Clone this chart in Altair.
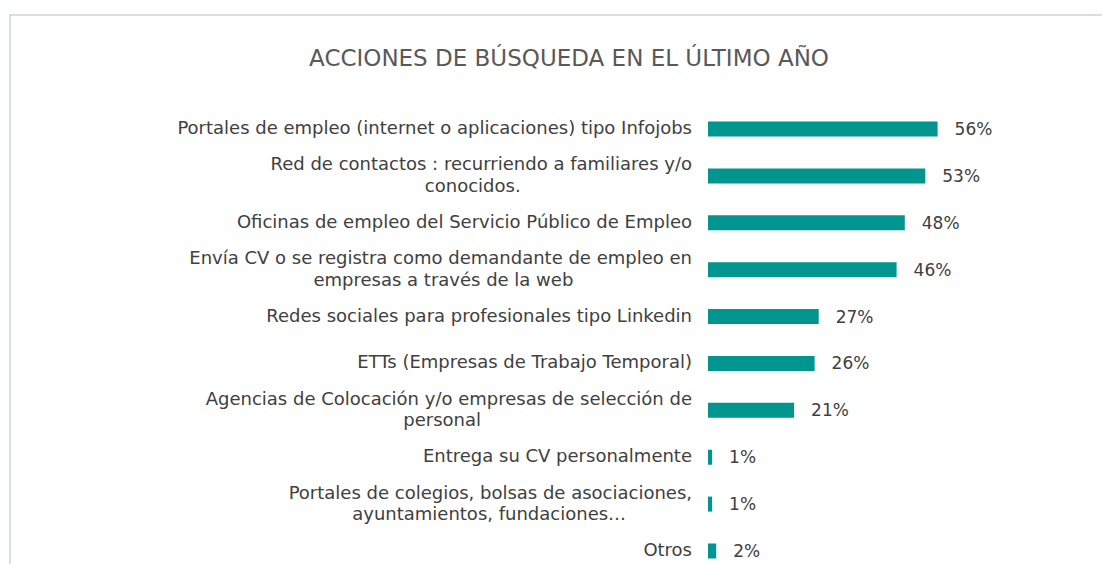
import unicodedata
import altair as alt
import pandas as pd

line1 = [
    "Portales de empleo (internet o aplicaciones) tipo Infojobs",
    "Red de contactos : recurriendo a familiares y/o",
    "Oficinas de empleo del Servicio Público de Empleo",
    "Envía CV o se registra como demandante de empleo en",
    "Redes sociales para profesionales tipo Linkedin",
    "ETTs (Empresas de Trabajo Temporal)",
    "Agencias de Colocación  y/o empresas de selección de",
    "Entrega su CV personalmente",
    "Portales de colegios, bolsas de asociaciones,",
    "Otros",
]
line2 = [
    "",
    "conocidos.",
    "",
    "empresas a través de la web",
    "",
    "",
    "personal",
    "",
    "ayuntamientos, fundaciones…",
    "",
]
values = [56, 53, 48, 46, 27, 26, 21, 1, 1, 2]
title_text = ["ACCIONES DE BÚSQUEDA EN EL ÚLTIMO AÑO"]

TEAL = "#00968f"
TEXT = "#404040"
FONT = "DejaVu Sans"
FS = 18

# approximate advance widths (em) of the label font, used only to centre the
# second line of a two-line label under its first line
_ADV = {
    " ": .318, "a": .613, "b": .635, "c": .550, "d": .635, "e": .615, "f": .352,
    "g": .635, "h": .634, "i": .278, "j": .278, "k": .579, "l": .278, "m": .974,
    "n": .634, "o": .612, "p": .635, "q": .635, "r": .411, "s": .521, "t": .392,
    "u": .634, "v": .592, "w": .818, "x": .592, "y": .592, "z": .525, ".": .318,
    ",": .318, "/": .337, "…": 1.0, ":": .337, "(": .390, ")": .390,
    "C": .698, "V": .684, "E": .632, "P": .603, "R": .695, "O": .787, "A": .684,
    "L": .557, "T": .611, "I": .295,
}
BLANK = "\u2800"
BLANK_EM = 0.726


def em_width(s):
    return sum(_ADV.get(unicodedata.normalize("NFD", ch)[0], 0.6) for ch in s)


def pad_second(a, b):
    if not b:
        return ""
    n = max(0, round((em_width(a) - em_width(b)) / 2 / BLANK_EM))
    return b + BLANK * n


df = pd.DataFrame(
    {
        "cat": line1,
        "l1": line1,
        "l2": [pad_second(a, b) for a, b in zip(line1, line2)],
        "two": [bool(b) for b in line2],
        "val": values,
    }
)

W, H = 246, 437

y = alt.Y(
    "cat:N",
    sort=line1,
    title=None,
    scale=alt.Scale(paddingInner=0.68, paddingOuter=0),
    axis=None,
)
x = alt.X("val:Q", title=None, scale=alt.Scale(domain=[0, 60]), axis=None)

frame = alt.Chart(pd.DataFrame({"k": [0]})).mark_rect(
    fillOpacity=0, stroke="#cdd3dc", strokeWidth=1.5
).encode(
    x=alt.value(-698), x2=alt.value(420), y=alt.value(-106.5), y2=alt.value(600)
)

title = alt.Chart(pd.DataFrame({"t": title_text})).mark_text(
    align="center", baseline="alphabetic", font=FONT, fontSize=23, color="#595959"
).encode(x=alt.value(-139), y=alt.value(-56), text="t:N")

base = alt.Chart(df)
txt = dict(align="right", baseline="middle", font=FONT, fontSize=FS, color=TEXT)

cat_single = base.transform_filter("!datum.two").mark_text(**txt).encode(
    y=y, x=alt.value(-16), text="l1:N"
)
cat_top = base.transform_filter("datum.two").mark_text(dy=-10.5, **txt).encode(
    y=y, x=alt.value(-16), text="l1:N"
)
cat_bottom = base.transform_filter("datum.two").mark_text(dy=11, **txt).encode(
    y=y, x=alt.value(-16), text="l2:N"
)

bars = base.mark_bar(color=TEAL).encode(y=y, x=x)
labels = (
    base.transform_calculate(txt="datum.val + '%'")
    .mark_text(align="left", baseline="middle", dx=17, dy=1, font=FONT, fontSize=17, color=TEXT)
    .encode(y=y, x=x, text="txt:N")
)

chart = (
    alt.layer(frame, title, cat_single, cat_top, cat_bottom, bars, labels)
    .properties(
        width=W,
        height=H,
        autosize=alt.AutoSizeParams(type="none"),
        padding={"left": 700, "top": 113.5, "right": 148, "bottom": 5},
    )
    .configure_view(stroke=None)
)

chart.save("out.html", embed_options={"renderer": "svg", "actions": False})
